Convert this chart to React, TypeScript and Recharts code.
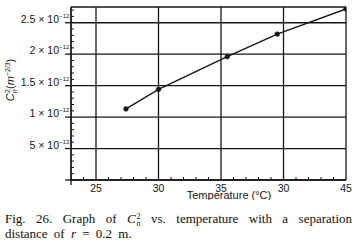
import React from "react";
import { LineChart, Line, XAxis, YAxis, CartesianGrid, Label } from "recharts";

// temperature (°C) and Cn² (in units of 1e-12 m^-2/3)
const temps = [27.4, 30.0, 35.5, 39.5, 45.0];
const cn2 = [1.13, 1.44, 1.96, 2.32, 2.72];

// major ticks carry grid lines, minor ones only short inner marks
const xMajor = [23, 25, 30, 35, 40, 45];
const xTickLabels: Record<number, string> = { 25: "25", 30: "30", 35: "35", 40: "30", 45: "45" };
const xAllTicks = [23, 24, 25, 26, 27, 28, 29, 30, 31, 32, 33, 34, 35, 36, 37, 38, 39, 40, 41, 42, 43, 44, 45];

const yMajor = [0, 0.5, 1, 1.5, 2, 2.5, 2.75];
const yTickMantissa: Record<number, string> = { 0.5: "5", 1: "1", 1.5: "1.5", 2: "2", 2.5: "2.5" };
const yTickExponent: Record<number, string> = { 0.5: "\u221213", 1: "\u221212", 1.5: "\u221212", 2: "\u221212", 2.5: "\u221212" };
const yAllTicks = [0, 0.1, 0.2, 0.3, 0.4, 0.5, 0.6, 0.7, 0.8, 0.9, 1, 1.1, 1.2, 1.3, 1.4, 1.5, 1.6, 1.7, 1.8, 1.9, 2, 2.1, 2.2, 2.3, 2.4, 2.5, 2.6, 2.7, 2.75];

const data = temps.map((t, i) => ({ temp: t, cn2: cn2[i] }));

const INK = "#161616";
const SANS = "'Liberation Sans', Arial, sans-serif";
const SERIF = "'Liberation Serif', 'Times New Roman', serif";

const XTick = (props: any) => {
    const { x, y, payload } = props;
    const v = payload.value;
    if (v === 23) {
        // little overhang of the frame below the axis
        return <line x1={x} y1={y} x2={x} y2={y + 5} stroke={INK} strokeWidth={1.3} />;
    }
    if (!xTickLabels[v]) {
        return <line x1={x} y1={y} x2={x} y2={y - 3} stroke={INK} strokeWidth={1} />;
    }
    return (
        <text x={x} y={y + 12} textAnchor="middle" fontSize={10.5} fontFamily={SANS} fill={INK}>
            {xTickLabels[v]}
        </text>
    );
};

const YTick = (props: any) => {
    const { x, y, payload } = props;
    const v = payload.value;
    if (v === 2.75) return <g />;
    if (v !== 0 && !yTickMantissa[v]) {
        return <line x1={x} y1={y} x2={x + 3} y2={y} stroke={INK} strokeWidth={1} />;
    }
    return (
        <g>
            <line x1={x - 6} y1={y} x2={x} y2={y} stroke={INK} strokeWidth={1.3} />
            {yTickMantissa[v] && (
                <>
                    <text x={x - 12} y={y} textAnchor="end" fontSize={10.5} fontFamily={SANS} fill={INK}>
                        {yTickMantissa[v] + " \u00d7 10"}
                    </text>
                    <text x={x - 11.7} y={y - 5} textAnchor="start" fontSize={5.8} fontFamily={SANS} fill={INK}>
                        {yTickExponent[v]}
                    </text>
                </>
            )}
        </g>
    );
};

const XTitle = (props: any) => {
    const { viewBox } = props;
    return (
        <text x={229} y={viewBox.y + 19} textAnchor="middle" fontSize={11} fontFamily={SANS} fill={INK}>
            Temperature (°C)
        </text>
    );
};

const YTitle = () => (
    <text
        transform="translate(14, 80) rotate(-90)"
        textAnchor="middle"
        fontSize={11}
        fontFamily={SANS}
        fill={INK}
    >
        <tspan fontStyle="italic">C</tspan>
        <tspan fontStyle="italic" fontSize={7} dy={2.5}>n</tspan>
        <tspan fontSize={7} dx={-3.5} dy={-7}>2</tspan>
        <tspan dy={4.5}>(</tspan>
        <tspan fontStyle="italic">m</tspan>
        <tspan fontSize={7} dy={-4}>{"\u22122/3"}</tspan>
        <tspan dy={4}>)</tspan>
    </text>
);

const Stacked = () => (
    <span
        style={{
            display: "inline-block",
            fontSize: 8,
            lineHeight: "7px",
            verticalAlign: -3,
            marginLeft: 1,
            textAlign: "left",
            textAlignLast: "left",
        }}
    >
        2<br />
        <i>n</i>
    </span>
);

export default function App() {
    return (
        <div style={{ position: "absolute", left: 0, top: 0, width: 356, height: 250, background: "#fff" }}>
            <LineChart
                width={356}
                height={200}
                data={data}
                margin={{ top: 7, right: 10, bottom: 0, left: 0 }}
            >
                <CartesianGrid
                    stroke={INK}
                    strokeWidth={1.3}
                    horizontalValues={yMajor}
                    verticalValues={xMajor}
                />
                <XAxis
                    dataKey="temp"
                    type="number"
                    domain={[23, 45]}
                    ticks={xAllTicks}
                    allowDataOverflow
                    height={20}
                    axisLine={{ stroke: INK, strokeWidth: 1.3 }}
                    tickLine={false}
                    tickSize={0}
                    tickMargin={0}
                    tick={XTick}
                    interval={0}
                >
                    <Label content={XTitle} />
                </XAxis>
                <YAxis
                    type="number"
                    domain={[0, 2.75]}
                    ticks={yAllTicks}
                    allowDataOverflow
                    width={71}
                    axisLine={{ stroke: INK, strokeWidth: 1.3 }}
                    tickLine={false}
                    tickSize={0}
                    tickMargin={0}
                    tick={YTick}
                    interval={0}
                >
                    <Label content={YTitle} />
                </YAxis>
                <Line
                    dataKey="cn2"
                    stroke={INK}
                    strokeWidth={1.4}
                    dot={{ r: 2.4, fill: INK, stroke: INK, strokeWidth: 0.5 }}
                    isAnimationActive={false}
                />
            </LineChart>
            <div
                style={{
                    position: "absolute",
                    left: 5,
                    top: 212,
                    width: 347,
                    fontFamily: SERIF,
                    fontSize: 13,
                    lineHeight: "14px",
                    color: "#111",
                }}
            >
                <div style={{ textAlign: "justify", textAlignLast: "justify" }}>
                    Fig. 26. Graph of <i>C</i><Stacked /> vs. temperature with a separation
                </div>
                <div style={{ wordSpacing: 3 }}>
                    distance of <i>r</i>&nbsp;= 0.2 m.
                </div>
            </div>
        </div>
    );
}
